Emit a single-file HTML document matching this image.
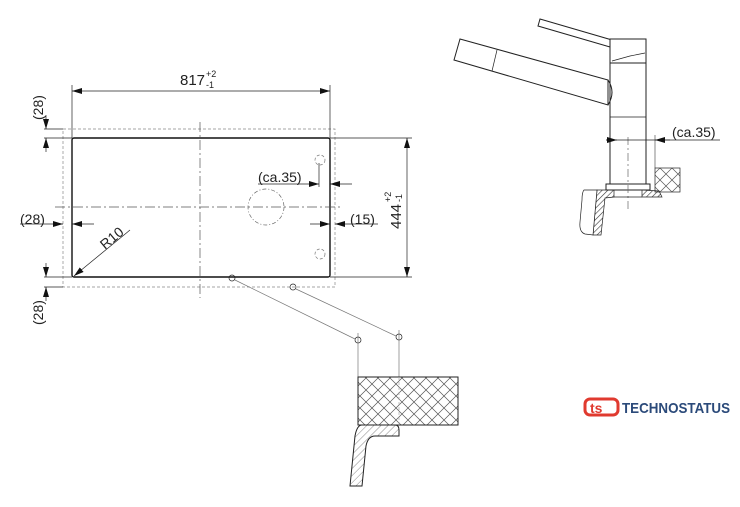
<!DOCTYPE html>
<html><head><meta charset="utf-8"><style>
html,body{margin:0;padding:0;background:#fff;}
svg{display:block;}
text{font-family:"Liberation Sans",sans-serif;fill:#222;}
</style></head><body>
<svg width="740" height="507" viewBox="0 0 740 507" xmlns="http://www.w3.org/2000/svg">
<defs>
<pattern id="xh" width="12" height="12" patternUnits="userSpaceOnUse">
<path d="M0 0L12 12M12 0L0 12" stroke="#555" stroke-width="0.7"/>
</pattern>
<pattern id="dh" width="4" height="4" patternUnits="userSpaceOnUse" patternTransform="rotate(45)">
<path d="M0 0V4" stroke="#333" stroke-width="1.2"/>
</pattern>
<pattern id="lh" width="5" height="5" patternUnits="userSpaceOnUse" patternTransform="rotate(45)">
<path d="M0 0V5" stroke="#555" stroke-width="0.7"/>
</pattern>
<marker id="a" viewBox="0 0 10 6" refX="10" refY="3" markerWidth="10" markerHeight="6" orient="auto" markerUnits="userSpaceOnUse">
<path d="M0 0L10 3L0 6z" fill="#111"/></marker>
</defs>
<g fill="none" stroke="#222" stroke-width="0.7">
<rect x="63" y="129" width="272" height="158" stroke="#888" stroke-dasharray="3,2"/>
<rect x="72" y="138" width="258" height="139" rx="2" stroke="#111" stroke-width="1.4"/>
<line x1="200" y1="122" x2="200" y2="298" stroke="#555" stroke-dasharray="10,3,2,3"/>
<line x1="55" y1="207" x2="342" y2="207" stroke="#555" stroke-dasharray="10,3,2,3"/>
<circle cx="266" cy="207" r="18" stroke="#666" stroke-dasharray="4,2,1,2"/>
<circle cx="320" cy="160" r="5" stroke="#777" stroke-dasharray="3,2"/>
<circle cx="320" cy="254" r="5" stroke="#777" stroke-dasharray="3,2"/>
<line x1="319" y1="163" x2="319" y2="187"/>
<line x1="72" y1="85" x2="72" y2="138"/>
<line x1="330" y1="85" x2="330" y2="138"/>
<line x1="200" y1="91" x2="330" y2="91" marker-end="url(#a)"/>
<line x1="200" y1="91" x2="72" y2="91" marker-end="url(#a)"/>
<line x1="330" y1="138" x2="412" y2="138"/>
<line x1="330" y1="277" x2="412" y2="277"/>
<line x1="407" y1="207" x2="407" y2="138" marker-end="url(#a)"/>
<line x1="407" y1="207" x2="407" y2="277" marker-end="url(#a)"/>
<line x1="44" y1="129" x2="63" y2="129"/>
<line x1="44" y1="138" x2="72" y2="138"/>
<line x1="46" y1="115" x2="46" y2="129" marker-end="url(#a)"/>
<line x1="46" y1="152" x2="46" y2="138" marker-end="url(#a)"/>
<line x1="44" y1="277" x2="72" y2="277"/>
<line x1="44" y1="287" x2="63" y2="287"/>
<line x1="46" y1="263" x2="46" y2="277" marker-end="url(#a)"/>
<line x1="46" y1="301" x2="46" y2="287" marker-end="url(#a)"/>
<line x1="20" y1="224" x2="63" y2="224" marker-end="url(#a)"/>
<line x1="94" y1="224" x2="72" y2="224" marker-end="url(#a)"/>
<line x1="310" y1="224" x2="330" y2="224" marker-end="url(#a)"/>
<line x1="378" y1="224" x2="335" y2="224" marker-end="url(#a)"/>
<line x1="258" y1="184" x2="319" y2="184" marker-end="url(#a)"/>
<line x1="352" y1="184" x2="330" y2="184" marker-end="url(#a)"/>
<line x1="130" y1="230" x2="74" y2="276" marker-end="url(#a)"/>
<circle cx="232" cy="278" r="3"/>
<circle cx="293" cy="287" r="3"/>
<circle cx="358" cy="340" r="3"/>
<circle cx="399" cy="337" r="3"/>
<line x1="235" y1="280" x2="355" y2="339" stroke="#777"/>
<line x1="296" y1="289" x2="396" y2="336" stroke="#777"/>
<line x1="358" y1="333" x2="358" y2="377" stroke="#777"/>
<line x1="399" y1="330" x2="399" y2="377" stroke="#777"/>
<rect x="358" y="377" width="100" height="48" fill="url(#xh)" stroke="#222" stroke-width="1"/>
<line x1="399" y1="377" x2="399" y2="425" stroke="#aaa" stroke-dasharray="3,2"/>
<path d="M362 425L395 425Q399 425 399 430L399 436L375 436Q368 436 366 446L362 486L350 486L355 436Q357 425 362 425Z" fill="url(#lh)" stroke="#222" stroke-width="1"/>
<path d="M460 39L608 80L608 105L454 60Z" fill="#fff" stroke="#222" stroke-width="1"/>
<path d="M497 50L492 71"/>
<path d="M540 19L612 40L610 47L538 26Z" fill="#fff" stroke="#222" stroke-width="1"/>
<rect x="610" y="39" width="36" height="24" fill="#fff" stroke="#222" stroke-width="1"/>
<path d="M612 61L630 56L645 53"/>
<rect x="610" y="63" width="36" height="121" fill="#fff" stroke="#222" stroke-width="1"/>
<path d="M608 80Q616 92 608 105" stroke-width="1"/>
<line x1="610" y1="117" x2="646" y2="117"/>
<rect x="606" y="184" width="44" height="6" fill="#fff" stroke="#222" stroke-width="1"/>
<line x1="628" y1="137" x2="628" y2="212" stroke="#666" stroke-dasharray="8,3,2,3"/>
<line x1="655" y1="135" x2="655" y2="168" stroke="#555"/>
<line x1="606" y1="140" x2="720" y2="140"/>
<line x1="606" y1="140" x2="617" y2="140" marker-end="url(#a)"/>
<line x1="670" y1="140" x2="655" y2="140" marker-end="url(#a)"/>
<rect x="655" y="168" width="25" height="24" fill="url(#xh)" stroke="#222"/>
<path d="M597 190L614 190L614 197L605 198L601 235L593 235Z" fill="url(#dh)" stroke="#222"/>
<path d="M642 190L659 191L662 197L642 197Z" fill="url(#dh)" stroke="#222"/>
<line x1="614" y1="197" x2="642" y2="197"/>
<path d="M584 190L597 190L593 235L585 234Q579 232 580 222L582 200Q582 192 584 190Z" fill="#fff" stroke="#222"/>
</g>
<text x="180" y="85" font-size="15">817</text>
<text x="206" y="77" font-size="9">+2</text>
<text x="206" y="88" font-size="9">-1</text>
<text transform="translate(401,229) rotate(-90)" font-size="15">444</text>
<text transform="translate(391,202) rotate(-90)" font-size="9">+2</text>
<text transform="translate(402,202) rotate(-90)" font-size="9">-1</text>
<text transform="translate(43,120) rotate(-90)" font-size="14">(28)</text>
<text transform="translate(43,325) rotate(-90)" font-size="14">(28)</text>
<text x="20" y="224" font-size="14">(28)</text>
<text x="350" y="224" font-size="14">(15)</text>
<text x="258" y="182" font-size="14">(ca.35)</text>
<text transform="translate(105,250) rotate(-40)" font-size="14">R10</text>
<text x="672" y="137" font-size="14">(ca.35)</text>
<rect x="585" y="399" width="33" height="16" rx="5" fill="none" stroke="#e03a2f" stroke-width="3"/>
<text x="590" y="413" font-size="14" font-weight="bold" style="fill:#e03a2f">ts</text>
<text x="622" y="413" font-size="15" font-weight="bold" style="fill:#2b4a7a" textLength="108" lengthAdjust="spacingAndGlyphs">TECHNOSTATUS</text>
</svg>
</body></html>
